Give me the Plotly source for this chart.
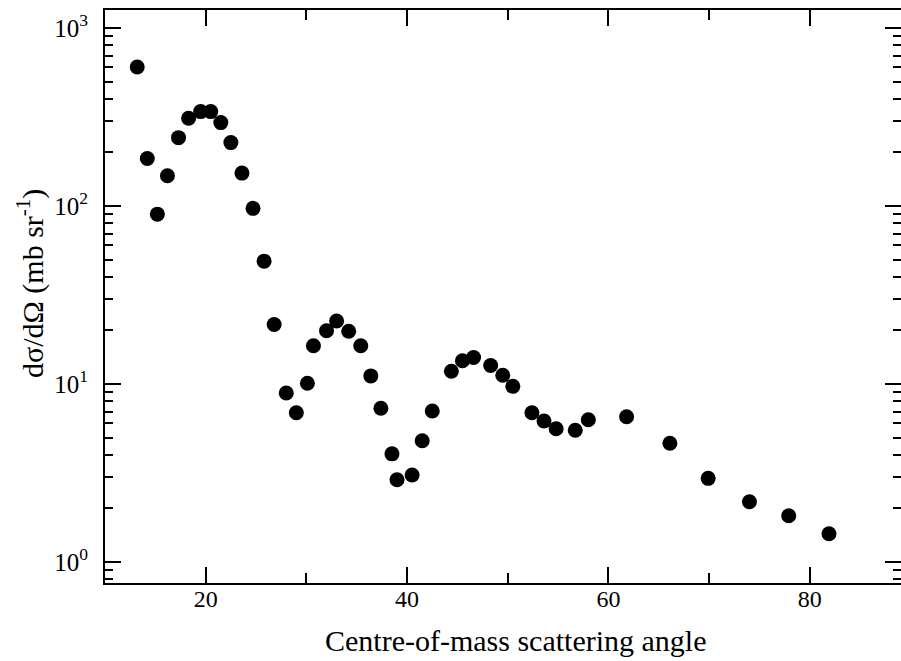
import plotly.graph_objects as go

# Centre-of-mass scattering angle (degrees)
angle = [13.2, 14.2, 15.2, 16.2, 17.3, 18.3, 19.5, 20.5, 21.5, 22.5, 23.6, 24.7,
         25.8, 26.8, 28.0, 29.0, 30.1, 30.7, 32.0, 33.0, 34.2, 35.4, 36.4, 37.4,
         38.5, 39.0, 40.5, 41.5, 42.5, 44.4, 45.5, 46.6, 48.3, 49.5, 50.5, 52.4,
         53.6, 54.8, 56.7, 58.0, 61.8, 66.1, 69.9, 74.0, 77.9, 81.9]
# Differential cross section dσ/dΩ (mb/sr)
xsec = [604, 185, 90, 148, 242, 311, 339, 339, 294, 227, 153, 97,
        49, 21.6, 8.9, 6.9, 10.1, 16.4, 19.9, 22.6, 19.8, 16.4, 11.1, 7.3,
        4.05, 2.9, 3.08, 4.8, 7.05, 11.8, 13.5, 14.1, 12.7, 11.2, 9.7, 6.9,
        6.2, 5.6, 5.5, 6.3, 6.55, 4.65, 2.95, 2.18, 1.82, 1.44]

y_tickvals = [1, 10, 100, 1000]
y_ticktext = ["10<sup>0</sup>", "10<sup>1</sup>", "10<sup>2</sup>", "10<sup>3</sup>"]
x_title = "Centre-of-mass scattering angle"
y_title = "dσ/dΩ (mb sr<sup>-1</sup>)"

y_minor = [m * 10 ** e for e in range(-1, 3) for m in range(2, 10)]

FONT = "Times New Roman"

# plot-area geometry in pixels
L, R, T, B = 105, 0, 10, 78
W, H = 901, 661
PW, PH = W - L - R, H - T - B

fig = go.Figure()
fig.add_trace(go.Scatter(
    x=angle, y=xsec, mode="markers",
    marker=dict(size=15, color="black", line=dict(width=0)),
    showlegend=False,
))

fig.update_layout(
    width=W, height=H,
    margin=dict(l=L, r=R, t=T, b=B, autoexpand=False),
    paper_bgcolor="white", plot_bgcolor="white",
    font=dict(family=FONT, color="black", size=23),
    xaxis=dict(
        range=[10, 89.05], showgrid=False, zeroline=False, automargin=False,
        showline=True, linecolor="black", linewidth=2, mirror="ticks",
        ticks="inside", ticklen=16, tickwidth=2, tickcolor="black",
        tickmode="linear", tick0=0, dtick=20,
        ticklabelstandoff=-7,
        tickfont=dict(family=FONT, size=24, color="black"),
        minor=dict(ticks="inside", ticklen=10, tickwidth=2, tickcolor="black",
                   tickmode="linear", tick0=0, dtick=10, showgrid=False),
    ),
    yaxis=dict(
        type="log", range=[-0.118, 3.101], showgrid=False, zeroline=False,
        automargin=False,
        showline=True, linecolor="black", linewidth=2, mirror="ticks",
        ticks="inside", ticklen=16, tickwidth=2, tickcolor="black",
        tickmode="array", tickvals=y_tickvals, ticktext=y_ticktext,
        ticklabelstandoff=10,
        tickfont=dict(family=FONT, size=25, color="black"),
        minor=dict(ticks="inside", ticklen=8, tickwidth=1.5, tickcolor="black",
                   tickmode="array", tickvals=y_minor, showgrid=False),
    ),
    annotations=[
        dict(text=y_title, xref="paper", yref="paper",
             x=(30 - L) / PW, y=(H - B - 284) / PH, xanchor="center", yanchor="middle",
             textangle=-90, showarrow=False,
             font=dict(family=FONT, size=30, color="black")),
        dict(text=x_title, xref="paper", yref="paper",
             x=(516 - L) / PW, y=(H - B - 640) / PH, xanchor="center", yanchor="middle",
             showarrow=False,
             font=dict(family=FONT, size=30, color="black")),
    ],
)

fig.write_html(
    "out.html",
    config={"displayModeBar": False},
    post_script="document.body.style.margin='0';"
                "document.body.style.overflow='hidden';"
                "document.documentElement.style.overflow='hidden';",
)
